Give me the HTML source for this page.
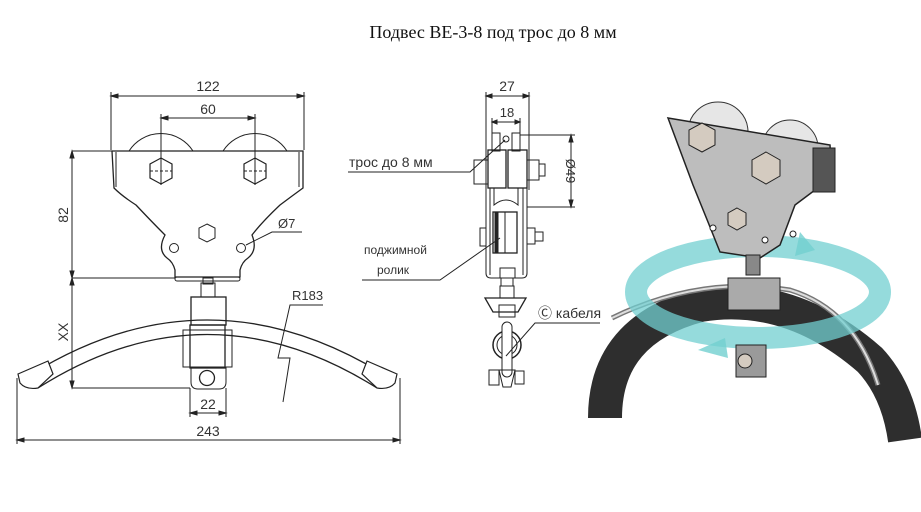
<!DOCTYPE html>
<html><head><meta charset="utf-8"><style>
html,body{margin:0;padding:0;background:#fff;}
svg{display:block}
</style></head><body>
<svg width="921" height="512" viewBox="0 0 921 512" xmlns="http://www.w3.org/2000/svg">
<text x="493" y="38" font-family="Liberation Serif, serif" font-size="18" text-anchor="middle" fill="#111">Подвес ВЕ-3-8 под трос до 8 мм</text>

<g fill="none" stroke="#222" stroke-width="1" font-family="Liberation Sans, sans-serif">
<line x1="111" y1="92" x2="111" y2="150"/><line x1="304" y1="92" x2="304" y2="150"/>
<line x1="111" y1="96" x2="304" y2="96"/>
<path d="M111,96 l7,-2 v4z M304,96 l-7,-2 v4z" fill="#222"/>
<line x1="161" y1="114" x2="161" y2="185"/><line x1="255" y1="114" x2="255" y2="185"/>
<line x1="161" y1="118" x2="255" y2="118"/>
<path d="M161,118 l7,-2 v4z M255,118 l-7,-2 v4z" fill="#222"/>
<path d="M129,151 A38,38 0 0 1 193,151"/>
<path d="M223,151 A38,38 0 0 1 287,151"/>
<path d="M112,151 H303 V188 Q292,196 280,205 Q262,222 252,235 Q258,250 248,258 Q242,262 240,270 V277 H175 V270 Q173,262 167,258 Q157,250 165,235 Q152,222 136,205 Q122,196 114,188 Z" stroke-width="1.3"/>
<line x1="116" y1="152" x2="116" y2="187"/><line x1="299" y1="152" x2="299" y2="187"/>
<rect x="175" y="277" width="65" height="4" rx="2"/>
<polygon points="161,158 172,164 172,178 161,184 150,178 150,164" stroke-width="1.2"/>
<polygon points="255,158 266,164 266,178 255,184 244,178 244,164" stroke-width="1.2"/>
<line x1="150" y1="171" x2="172" y2="171" stroke-dasharray="3,2"/><line x1="244" y1="171" x2="266" y2="171" stroke-dasharray="3,2"/>
<polygon points="207,224 215,228 215,238 207,242 199,238 199,228"/>
<circle cx="174" cy="248" r="4.5"/><circle cx="241" cy="248" r="4.5"/>
<polyline points="246,245 272,232 302,232"/>
<text x="278" y="228" font-size="13" fill="#333" stroke="none">Ø7</text>
<line x1="72" y1="151" x2="112" y2="151"/><line x1="72" y1="278" x2="175" y2="278"/>
<line x1="72" y1="388" x2="190" y2="388"/>
<line x1="72" y1="151" x2="72" y2="388"/>
<path d="M72,151 l-2,7 h4z M72,278 l-2,-7 h4z M72,278 l-2,7 h4z M72,388 l-2,-7 h4z" fill="#222"/>
<text transform="translate(68,215) rotate(-90)" font-size="14" fill="#333" stroke="none" text-anchor="middle">82</text>
<text transform="translate(68,332) rotate(-90)" font-size="14" fill="#333" stroke="none" text-anchor="middle">XX</text>
<rect x="201" y="283" width="14" height="14"/>
<rect x="203" y="278" width="10" height="6"/>
<rect x="191" y="297" width="35" height="28" stroke-width="1.3"/>
<rect x="183" y="330" width="49" height="37"/>
<rect x="190" y="325" width="35" height="43" stroke-width="1.3"/>
<path d="M191,367 H226 V382 Q226,389 219,389 H198 Q191,389 191,382Z"/>
<circle cx="207" cy="378" r="7.5" stroke-width="1.3"/>
<path d="M30,375 Q207,265 385,375" stroke-width="1.3"/>
<path d="M38,388 Q207,281 377,388" stroke-width="1.3"/>
<path d="M18,374 L48,361 L53,374 L38,388 Q26,390 20,383 Z" fill="#fff" stroke-width="1.2"/>
<path d="M397,374 L367,361 L362,374 L377,388 Q389,390 395,383 Z" fill="#fff" stroke-width="1.2"/>
<line x1="190" y1="388" x2="190" y2="417"/><line x1="226" y1="388" x2="226" y2="417"/>
<line x1="190" y1="413" x2="226" y2="413"/>
<path d="M190,413 l7,-2 v4z M226,413 l-7,-2 v4z" fill="#222"/>
<text x="208" y="409" font-size="14" fill="#333" stroke="none" text-anchor="middle">22</text>
<line x1="17" y1="378" x2="17" y2="444"/><line x1="400" y1="378" x2="400" y2="444"/>
<line x1="17" y1="440" x2="400" y2="440"/>
<path d="M17,440 l7,-2 v4z M400,440 l-7,-2 v4z" fill="#222"/>
<text x="208" y="436" font-size="14" fill="#333" stroke="none" text-anchor="middle">243</text>
<text x="208" y="114" font-size="14" fill="#333" stroke="none" text-anchor="middle">60</text>
<text x="208" y="91" font-size="14" fill="#333" stroke="none" text-anchor="middle">122</text>
<polyline points="323,305 290,305 278,358 290,358 283,402"/>
<text x="292" y="300" font-size="13" fill="#333" stroke="none">R183</text>

<line x1="486" y1="92" x2="486" y2="190"/><line x1="529" y1="92" x2="529" y2="190"/>
<line x1="486" y1="96" x2="529" y2="96"/>
<path d="M486,96 l6,-2 v4z M529,96 l-6,-2 v4z" fill="#222"/>
<text x="507" y="91" font-size="14" fill="#333" stroke="none" text-anchor="middle">27</text>
<line x1="492" y1="118" x2="492" y2="135"/><line x1="520" y1="118" x2="520" y2="135"/>
<line x1="492" y1="122" x2="520" y2="122"/>
<path d="M492,122 l5,-2 v4z M520,122 l-5,-2 v4z" fill="#222"/>
<text x="507" y="117" font-size="13" fill="#333" stroke="none" text-anchor="middle">18</text>
<line x1="520" y1="135" x2="575" y2="135"/><line x1="527" y1="207" x2="575" y2="207"/>
<line x1="571" y1="135" x2="571" y2="207"/>
<path d="M571,135 l-2,7 h4z M571,207 l-2,-7 h4z" fill="#222"/>
<text transform="translate(566,171) rotate(90)" font-size="13" fill="#333" stroke="none" text-anchor="middle">Ø49</text>
<rect x="492" y="133" width="8" height="18"/><rect x="512" y="133" width="8" height="18"/>
<circle cx="506" cy="139" r="3"/>
<rect x="488" y="150" width="18" height="38" stroke-width="1.3"/><rect x="508" y="150" width="19" height="38" stroke-width="1.3"/>
<rect x="474" y="160" width="14" height="24"/><rect x="527" y="160" width="12" height="20"/><rect x="539" y="164" width="6" height="12"/>
<path d="M486,188 V273 Q486,278 491,278 H522 Q527,278 527,273 V188"/>
<line x1="490" y1="188" x2="490" y2="275"/><line x1="523" y1="188" x2="523" y2="275"/>
<path d="M494,188 V205 Q506,195 518,205 V188"/>
<rect x="493" y="212" width="24" height="41" stroke-width="1.3"/>
<line x1="505" y1="212" x2="505" y2="253"/>
<rect x="495" y="212" width="3" height="41" fill="#222"/>
<rect x="480" y="228" width="6" height="18"/><rect x="527" y="228" width="8" height="16"/><rect x="535" y="232" width="8" height="9"/>
<rect x="500" y="268" width="15" height="10"/>
<rect x="501" y="278" width="12" height="8"/><rect x="500" y="286" width="14" height="12"/>
<path d="M485,298 H526 L518,312 H493 Z" stroke-width="1.3"/>
<rect x="499" y="305" width="16" height="12"/>
<circle cx="507" cy="345" r="14" stroke-width="1.5"/><circle cx="507" cy="345" r="10"/>
<rect x="502" y="322" width="10" height="55" rx="5" fill="#fff"/>
<rect x="489" y="370" width="10" height="15"/><rect x="515" y="371" width="9" height="13"/>
<path d="M499,370 H515 L511,387 H503 Z"/>
<polyline points="348,172 470,172 505,140"/>
<text x="349" y="167" font-size="14" fill="#333" stroke="none">трос до 8 мм</text>
<polyline points="362,280 440,280 500,238"/>
<text x="364" y="254" font-size="12" fill="#333" stroke="none">поджимной</text>
<text x="377" y="274" font-size="12" fill="#333" stroke="none">ролик</text>
<polyline points="600,323 535,323 506,356"/>
<text x="538" y="318" font-size="14" fill="#333" stroke="none">Ⓒ кабеля</text>
</g>

<g>
<path d="M605,418 Q605,330 700,305 Q790,290 870,360 Q898,390 905,440" fill="none" stroke="#2e2e2e" stroke-width="34"/>
<path d="M612,318 Q700,275 790,290 Q855,310 878,385" fill="none" stroke="#777" stroke-width="5"/>
<path d="M612,318 Q700,275 790,290 Q855,310 878,385" fill="none" stroke="#ddd" stroke-width="2"/>
<ellipse cx="758" cy="292" rx="122" ry="46" fill="none" stroke="#72cfd0" stroke-width="22" opacity="0.75"/>
<polygon points="698,350 725,338 728,358" fill="#72cfd0" opacity="0.8"/>
<polygon points="800,232 815,250 795,256" fill="#72cfd0" opacity="0.8"/>
<circle cx="718" cy="132" r="30" fill="#e6e6e6" stroke="#333"/>
<circle cx="790" cy="148" r="28" fill="#e6e6e6" stroke="#333"/>
<polygon points="668,118 830,145 832,180 815,190 795,205 780,245 760,258 720,252 708,222 693,185" fill="#bdbdbd" stroke="#222" stroke-width="1.5"/>
<rect x="813" y="148" width="22" height="44" fill="#555" stroke="#222"/>
<polygon points="702,123 715,130 715,145 702,152 689,145 689,130" fill="#d4cbc0" stroke="#222"/>
<polygon points="766,152 780,160 780,176 766,184 752,176 752,160" fill="#d4cbc0" stroke="#222"/>
<polygon points="737,208 746,213 746,225 737,230 728,225 728,213" fill="#d4cbc0" stroke="#222"/>
<circle cx="713" cy="228" r="3" fill="#fff" stroke="#222"/><circle cx="765" cy="240" r="3" fill="#fff" stroke="#222"/><circle cx="793" cy="234" r="3" fill="#fff" stroke="#222"/>
<rect x="746" y="255" width="14" height="20" fill="#888" stroke="#222"/>
<rect x="728" y="278" width="52" height="32" fill="#aaa" stroke="#222"/>
<rect x="736" y="345" width="30" height="32" fill="#9a9a9a" stroke="#222"/>
<circle cx="745" cy="361" r="7" fill="#d4cbc0" stroke="#222"/>
</g>
</svg>
</body></html>
